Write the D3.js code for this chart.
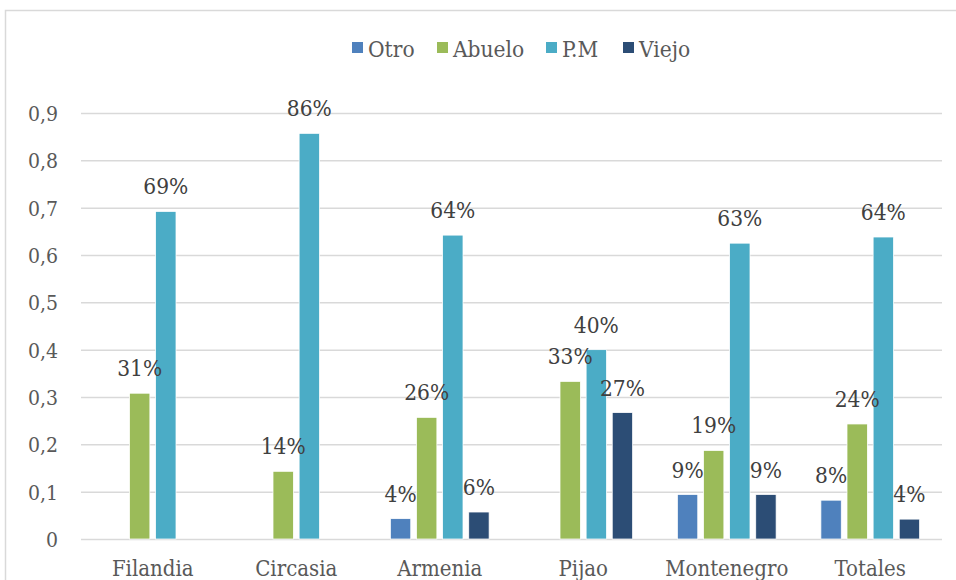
<!DOCTYPE html>
<html><head><meta charset="utf-8">
<script src="https://cdn.jsdelivr.net/npm/d3@7"></script>
<style>
html,body{margin:0;padding:0;background:#fff;}
svg{display:block;font-family:"DejaVu Serif Condensed","DejaVu Serif",serif;font-stretch:condensed;}
</style></head>
<body><svg id="c" width="956" height="580"></svg>
<script>
const categories = ["Filandia","Circasia","Armenia","Pijao","Montenegro","Totales"];
const seriesNames = ["Otro","Abuelo","P.M","Viejo"];
const seriesColors = ["#4F81BD","#9BBB59","#4BACC6","#2C4D75"];
const otro   = [null, null, 0.043, null, 0.094, 0.082];
const abuelo = [0.308, 0.143, 0.257, 0.333, 0.187, 0.243];
const pm     = [0.692, 0.857, 0.642, 0.400, 0.625, 0.638];
const viejo  = [null, null, 0.057, 0.267, 0.094, 0.042];
const yTicks = [0,0.1,0.2,0.3,0.4,0.5,0.6,0.7,0.8,0.9];
const yTickLabels = ["0","0,1","0,2","0,3","0,4","0,5","0,6","0,7","0,8","0,9"];

const seriesValues = [otro, abuelo, pm, viejo];
const svg = d3.select("#c");

// frame
svg.append("rect").attr("x",5.5).attr("y",10.5).attr("width",960).attr("height",600)
  .attr("fill","#fff").attr("stroke","#d9d9d9").attr("stroke-width",1.5);

const pLeft = 81, pRight = 942, pTop = 113, pBottom = 539;
const y = d3.scaleLinear().domain([0,0.9]).range([pBottom, pTop]);
const x0 = d3.scaleBand().domain(categories).range([pLeft,pRight]).paddingInner(0.272).paddingOuter(0.136);
const x1 = d3.scaleBand().domain(seriesNames).range([0,x0.bandwidth()]).paddingInner(0.22).paddingOuter(0.11);

// gridlines
const yAxis = d3.axisLeft(y).tickValues(yTicks).tickSize(-(pRight-pLeft)).tickFormat((d,i)=>yTickLabels[i]);
const gy = svg.append("g").attr("transform",`translate(${pLeft},0)`).call(yAxis)
  .attr("font-family",null).attr("font-size",null);
gy.select(".domain").remove();
gy.selectAll(".tick line").attr("stroke","#d9d9d9").attr("stroke-width",1.5);
gy.selectAll(".tick text").attr("x",-23).attr("fill","#595959").style("font-size","21px")
  .attr("dy","0.35em");

// x axis labels
const xAxis = d3.axisBottom(x0).tickSize(0);
const gx = svg.append("g").attr("transform",`translate(0,${pBottom})`).call(xAxis)
  .attr("font-family",null).attr("font-size",null);
gx.select(".domain").remove();
gx.selectAll(".tick text").attr("y",37).attr("dy",null).attr("fill","#595959")
  .style("font-size","22px");

// bars
const flat = [];
categories.forEach((c,ci)=>{
  seriesNames.forEach((s,si)=>{
    const v = seriesValues[si][ci];
    if(v!==null) flat.push({c,s,si,v});
  });
});
svg.append("g").selectAll("rect").data(flat).join("rect")
  .attr("x",d=>x0(d.c)+x1(d.s))
  .attr("y",d=>y(d.v))
  .attr("width",x1.bandwidth())
  .attr("height",d=>pBottom-y(d.v))
  .attr("fill",d=>seriesColors[d.si])
  .attr("stroke","#fff").attr("stroke-width",0.75);

// labels
svg.append("g").selectAll("text").data(flat).join("text")
  .attr("x",d=>x0(d.c)+x1(d.s)+x1.bandwidth()/2)
  .attr("y",d=>y(d.v)-17)
  .attr("text-anchor","middle")
  .attr("fill","#404040")
  .style("font-size","22.5px")
  .text(d=>Math.round(d.v*100)+"%");

// legend
const legendX = [352,437,546,623];
const lg = svg.append("g");
seriesNames.forEach((s,i)=>{
  lg.append("rect").attr("x",legendX[i]).attr("y",42).attr("width",11).attr("height",11).attr("fill",seriesColors[i]);
  lg.append("text").attr("x",legendX[i]+16).attr("y",56.5).attr("fill","#595959").style("font-size","22.5px").text(s);
});
</script></body></html>
